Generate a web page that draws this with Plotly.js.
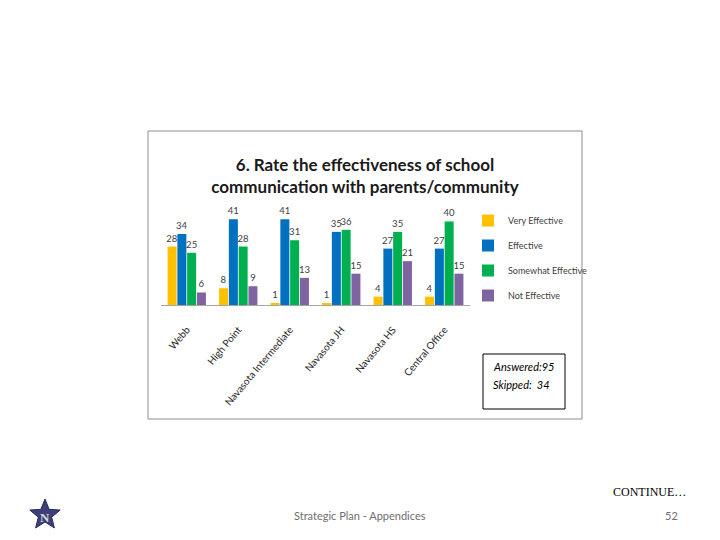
<!DOCTYPE html>
<html>
<head>
<meta charset="utf-8">
<script src="https://cdn.plot.ly/plotly-3.0.1.min.js"></script>
<style>html,body{margin:0;padding:0;background:#fff;}#chart{width:720px;height:540px;}</style>
</head>
<body>
<div id="chart"></div>
<script>
const categories = ["Webb", "High Point", "Navasota Intermediate", "Navasota JH", "Navasota HS", "Central Office"];
const seriesNames = ["Very Effective", "Effective", "Somewhat Effective", "Not Effective"];
const veryEffective = [28, 8, 1, 1, 4, 4];
const effective = [34, 41, 41, 35, 27, 27];
const somewhatEffective = [25, 28, 31, 36, 35, 40];
const notEffective = [6, 9, 13, 15, 21, 15];
const seriesValues = [veryEffective, effective, somewhatEffective, notEffective];
const colors = ["#FFC000", "#0070C0", "#00B050", "#8064A2"];

const W = 720, H = 540;
const px = x => x / W;
const py = y => 1 - y / H;
const fam = "Lato, Roboto, sans-serif";

const traces = seriesValues.map((vals, i) => ({
  type: "bar",
  name: seriesNames[i],
  x: categories,
  y: vals,
  marker: {color: colors[i]},
  text: vals.map(String),
  textposition: "outside",
  constraintext: "none",
  textfont: {family: fam, size: 9.5, color: "#404040"},
  cliponaxis: false,
  legendgroup: "g" + i,
  hoverinfo: "x+y+name"
}));

function starPath(cx, cy, ro, ri) {
  let d = "";
  for (let k = 0; k < 10; k++) {
    const r = k % 2 === 0 ? ro : ri;
    const a = -Math.PI / 2 + k * Math.PI / 5;
    const x = cx + r * Math.cos(a), y = cy + r * Math.sin(a);
    d += (k === 0 ? "M" : "L") + px(x).toFixed(5) + "," + py(y).toFixed(5);
  }
  return d + "Z";
}

const layout = {
  width: W, height: H,
  margin: {l: 0, r: 0, t: 0, b: 0},
  paper_bgcolor: "#ffffff",
  plot_bgcolor: "rgba(0,0,0,0)",
  showlegend: true,
  barmode: "group",
  bargap: 0.24,
  bargroupgap: 0.08,
  font: {family: fam, color: "#404040"},
  title: {
    text: "<b>6. Rate the effectiveness of school<br>communication with parents/community</b>",
    font: {family: fam, size: 17, color: "#1a1a1a"},
    x: px(365), xanchor: "center", xref: "paper",
    y: py(171), yanchor: "middle", yref: "paper"
  },
  xaxis: {
    domain: [px(161), px(470)],
    showline: true, linecolor: "#a6a6a6", linewidth: 1,
    showgrid: false, zeroline: false,
    ticks: "outside", ticklen: 14, tickcolor: "rgba(0,0,0,0)",
    tickangle: -50,
    tickfont: {family: fam, size: 10, color: "#262626"},
    fixedrange: true
  },
  yaxis: {
    domain: [py(305), py(211)],
    range: [0, 45],
    visible: false,
    fixedrange: true
  },
  legend: {
    x: px(468), y: py(206), xanchor: "left", yanchor: "top",
    xref: "paper", yref: "paper",
    font: {family: fam, size: 9, color: "#404040"},
    tracegroupgap: 6,
    bgcolor: "rgba(0,0,0,0)"
  },
  shapes: [
    {type: "rect", xref: "paper", yref: "paper", x0: px(148), x1: px(582), y0: py(419), y1: py(131),
     line: {color: "#8c8c8c", width: 1}, fillcolor: "rgba(0,0,0,0)"},
    {type: "rect", xref: "paper", yref: "paper", x0: px(483), x1: px(565), y0: py(409), y1: py(354),
     line: {color: "#000000", width: 1}, fillcolor: "rgba(0,0,0,0)"},
    {type: "path", xref: "paper", yref: "paper", path: starPath(45, 515, 16, 7),
     fillcolor: "#3d3f78", line: {color: "#2a2c5a", width: 1}}
  ],
  annotations: [
    {xref: "paper", yref: "paper", x: px(491), y: py(366), xanchor: "left", yanchor: "middle",
     text: "<i>Answered:95</i>", showarrow: false, font: {family: fam, size: 11, color: "#000"}},
    {xref: "paper", yref: "paper", x: px(491), y: py(385), xanchor: "left", yanchor: "middle",
     text: "<i>Skipped:  34</i>", showarrow: false, font: {family: fam, size: 11, color: "#000"}},
    {xref: "paper", yref: "paper", x: px(688), y: py(492), xanchor: "right", yanchor: "middle",
     text: "CONTINUE…", showarrow: false, font: {family: "Liberation Serif, DejaVu Serif, serif", size: 12, color: "#000"}},
    {xref: "paper", yref: "paper", x: px(360), y: py(515), xanchor: "center", yanchor: "middle",
     text: "Strategic Plan - Appendices", showarrow: false, font: {family: fam, size: 11, color: "#6e6e6e"}},
    {xref: "paper", yref: "paper", x: px(671), y: py(515), xanchor: "center", yanchor: "middle",
     text: "52", showarrow: false, font: {family: fam, size: 11, color: "#6e6e6e"}},
    {xref: "paper", yref: "paper", x: px(45), y: py(517), xanchor: "center", yanchor: "middle",
     text: "<b>N</b>", showarrow: false, font: {family: "Liberation Serif, DejaVu Serif, serif", size: 13, color: "#d8d8d8"}}
  ]
};

Plotly.newPlot("chart", traces, layout, {displayModeBar: false, staticPlot: true});
</script>
</body>
</html>
